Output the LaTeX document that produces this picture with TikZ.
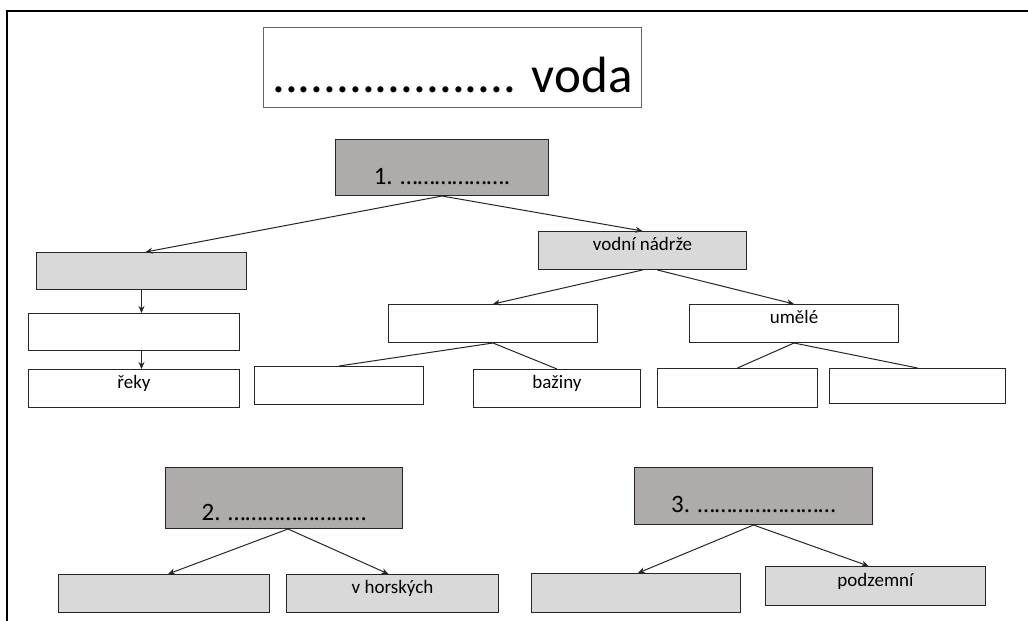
\documentclass[tikz,border=0pt]{standalone}
\usepackage{fontspec}
\setmainfont{Carlito}
\usetikzlibrary{arrows.meta}
\definecolor{darkg}{HTML}{AFABAB}
\definecolor{lightg}{HTML}{D9D9D9}
\definecolor{edge}{HTML}{262626}
\tikzset{
  box/.style={draw=edge, line width=1pt, inner sep=0pt, anchor=north west,
    text height=6pt, text depth=6pt, font=\fontsize{19}{22}\selectfont},
  greybox/.style={box, fill=lightg},
  whitebox/.style={box, fill=white},
  headbox/.style={box, fill=darkg, font=\fontsize{25}{30}\selectfont, text depth=0pt},
  conn/.style={line width=1pt, draw=edge},
  arr/.style={conn, -{Stealth[length=7pt,width=6pt]}},
  sz/.style 2 args={minimum width=#1pt, minimum height=#2pt}
}
\begin{document}
\begin{tikzpicture}[x=1pt,y=-1pt]
\useasboundingbox (0,0) rectangle (1028,621);
\fill[white] (0,0) rectangle (1028,621);
% frame
\draw[line width=2.6pt, line cap=rect] (7,621) -- (7,11) -- (1028,11);

% title
\node[box, draw=black!60, sz={378}{80}, font=\fontsize{51}{60}\selectfont, text height=50pt, text depth=0pt] (T) at (263,27) {................... voda};

% section 1
\node[headbox, sz={213}{56}, text height=34pt] (B1) at (335,139) {1. ……………….};
\node[greybox, sz={210}{37}] (L1) at (36,252) {};
\node[whitebox, sz={211}{37}] (L2) at (28,313) {};
\node[whitebox, sz={211}{38}] (L3) at (28,369) {řeky};
\node[greybox, sz={208}{38}] (VN) at (538,231) {vodní nádrže};
\node[whitebox, sz={209}{38}] (M1) at (388,304) {};
\node[whitebox, sz={209}{38}] (UM) at (689,304) {umělé};
\node[whitebox, sz={169}{38}] (M1a) at (254,366) {};
\node[whitebox, sz={167}{38}] (M1b) at (473,369) {bažiny};
\node[whitebox, sz={160}{39}] (UMa) at (657,368) {};
\node[whitebox, sz={176}{35}] (UMb) at (829,368) {};

% section 2
\node[headbox, sz={237}{61}, text height=44pt] (B2) at (165,467) {2. ……………………};
\node[greybox, sz={211}{38}] (B2a) at (58,574) {};
\node[greybox, sz={212}{38}] (B2b) at (286,574) {v horských};

% section 3
\node[headbox, sz={238}{57}, text height=32pt] (B3) at (634,467) {3. ……………………};
\node[greybox, sz={209}{39}] (B3a) at (531,573) {};
\node[greybox, sz={220}{39}] (B3b) at (765,566) {podzemní};

% connectors
\draw[arr] (B1.south) -- ([xshift=4pt]L1.north);
\draw[arr] (B1.south) -- (VN.north);
\draw[arr] (L1.south) -- (L1.south |- L2.north);
\draw[arr] (L1.south |- L2.south) -- (L1.south |- L3.north);
\draw[arr] (VN.south) -- (M1.north);
\draw[arr] ([xshift=15pt]VN.south) -- (UM.north);
\draw[conn] (M1.south) -- (M1a.north);
\draw[conn] (M1.south) -- (M1b.north);
\draw[conn] (UM.south) -- (UMa.north);
\draw[conn] (UM.south) -- (UMb.north);
\draw[arr] ([xshift=4pt]B2.south) -- ([xshift=4pt]B2a.north);
\draw[arr] ([xshift=4pt]B2.south) -- ([xshift=-4pt]B2b.north);
\draw[arr] (B3.south) -- ([xshift=2pt]B3a.north);
\draw[arr] (B3.south) -- ([xshift=-7pt]B3b.north);
\end{tikzpicture}
\end{document}
